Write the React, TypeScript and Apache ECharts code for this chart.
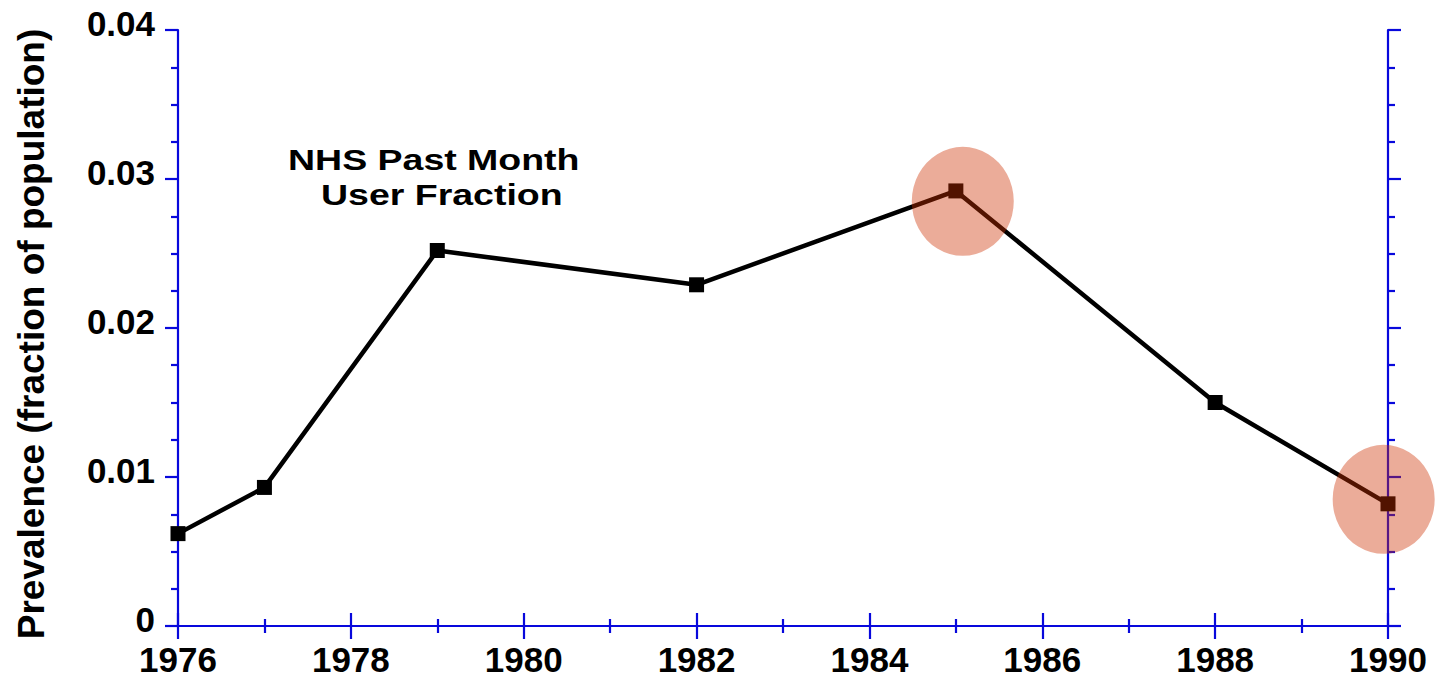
import React, { useEffect, useRef } from "react";
import * as echarts from "echarts";

const years = [1976, 1977, 1979, 1982, 1985, 1988, 1990];
const prevalence = [0.0062, 0.0093, 0.0252, 0.0229, 0.0292, 0.015, 0.0082];
const highlightYears = [1985.08, 1989.95];
const highlightValues = [0.0285, 0.0085];
const annotationLines = ["NHS Past Month", "User Fraction"];
const yTitle = "Prevalence (fraction of population)";

const AXIS_BLUE = "#0808DC";
const FONT = "'Liberation Sans', Arial, Helvetica, sans-serif";

export default function App() {
  const ref = useRef<HTMLDivElement>(null);
  useEffect(() => {
    if (!ref.current) return;
    const chart = echarts.init(ref.current, undefined, { renderer: "svg" });
    const axisLine = { show: true, lineStyle: { color: AXIS_BLUE, width: 2.2 } };
    const axisTick = { show: true, inside: false, length: 13, lineStyle: { color: AXIS_BLUE, width: 2.2 } };
    const minorTickX = { show: true, splitNumber: 2, length: 7, lineStyle: { color: AXIS_BLUE, width: 2.2 } };
    const minorTickY = { show: true, splitNumber: 4, length: 7, lineStyle: { color: AXIS_BLUE, width: 2.2 } };
    const xBase = { type: "value", min: 1976, max: 1990, interval: 2, splitLine: { show: false }, axisLine, axisTick, minorTick: minorTickX };
    const yBase = { type: "value", min: 0, max: 0.04, interval: 0.01, splitLine: { show: false }, axisLine, axisTick, minorTick: minorTickY };
    chart.setOption({
      animation: false,
      grid: { left: 178, right: 47, top: 30, bottom: 52 },
      xAxis: [
        {
          ...xBase,
          position: "bottom",
          axisLabel: {
            show: true,
            fontSize: 35,
            fontWeight: "bold",
            color: "#000",
            fontFamily: FONT,
            margin: 16,
            formatter: (v: number) => String(v),
          },
        },
        { ...xBase, position: "top", axisLabel: { show: false } },
      ],
      yAxis: [
        {
          ...yBase,
          position: "left",
          axisLabel: {
            show: true,
            fontSize: 35,
            fontWeight: "bold",
            color: "#000",
            fontFamily: FONT,
            margin: 23,
            verticalAlign: "bottom",
            lineHeight: 14,
          },
        },
        { ...yBase, position: "right", axisLabel: { show: false } },
      ],
      series: [
        {
          type: "line",
          data: years.map((y, i) => [y, prevalence[i]]),
          symbol: "rect",
          symbolSize: 15,
          lineStyle: { color: "#000", width: 4.5 },
          itemStyle: { color: "#000" },
          z: 2,
        },
        {
          type: "scatter",
          data: highlightYears.map((y, i) => [y, highlightValues[i]]),
          symbol: "circle",
          symbolSize: [102, 109],
          itemStyle: { color: "rgba(204,48,0,0.5)" },
          z: 5,
        },
      ],
      graphic: [
        {
          type: "text",
          x: 31,
          y: 334,
          rotation: Math.PI / 2,
          style: {
            text: yTitle,
            fontSize: 37,
            fontWeight: "bold",
            fontFamily: FONT,
            fill: "#000",
            align: "center",
            verticalAlign: "middle",
          },
        },
        {
          type: "text",
          x: 288,
          y: 159,
          scaleX: 1.25,
          style: {
            text: annotationLines[0],
            fontSize: 30,
            fontWeight: "bold",
            fontFamily: FONT,
            fill: "#000",
            align: "left",
            verticalAlign: "middle",
          },
        },
        {
          type: "text",
          x: 321,
          y: 194,
          scaleX: 1.25,
          style: {
            text: annotationLines[1],
            fontSize: 30,
            fontWeight: "bold",
            fontFamily: FONT,
            fill: "#000",
            align: "left",
            verticalAlign: "middle",
          },
        },
      ],
    });
    return () => chart.dispose();
  }, []);
  return (
    <div
      ref={ref}
      style={{ position: "absolute", left: 0, top: 0, width: 1435, height: 678, background: "#fff" }}
    />
  );
}
